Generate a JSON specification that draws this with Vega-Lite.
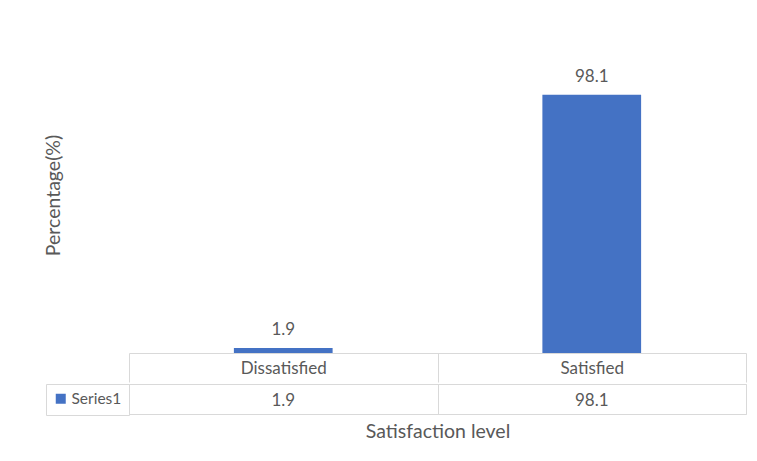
{
  "$schema": "https://vega.github.io/schema/vega-lite/v6.json",
  "padding": {"left": 43, "top": 37, "right": 5, "bottom": 5},
  "background": "white",
  "config": {
    "font": "Lato",
    "text": {"font": "Lato"},
    "axis": {"labelFont": "Lato", "titleFont": "Lato", "labelColor": "#595959", "titleColor": "#595959", "titleFontWeight": "normal"},
    "legend": {"labelFont": "Lato"}
  },
  "data": {"values": [
    {"level": "Dissatisfied", "pct": 1.9, "series": "Series1"},
    {"level": "Satisfied", "pct": 98.1, "series": "Series1"}
  ]},
  "spacing": 0,
  "resolve": {"scale": {"color": "independent"}, "legend": {"color": "independent"}},
  "vconcat": [
    {
      "width": 617,
      "height": 316,
      "view": {"stroke": null},
      "encoding": {
        "x": {"field": "level", "type": "nominal", "sort": null,
          "scale": {"paddingInner": 0, "paddingOuter": 0},
          "axis": {"title": null, "labelAngle": 0, "labelFontSize": 17, "labelPadding": -22, "labelBaseline": "top",
            "tickBand": "extent", "tickSize": 29, "tickColor": "#d9d9d9", "domainColor": "#d9d9d9", "ticks": true}},
        "y": {"field": "pct", "type": "quantitative", "scale": {"domain": [0, 120]},
          "axis": {"title": "Percentage(%)", "titleFontSize": 19.5, "labels": false, "ticks": false, "domain": false, "grid": false, "titlePadding": 66}}
      },
      "layer": [
        {"mark": {"type": "bar", "color": "#4472c4", "width": {"band": 0.32}}},
        {"mark": {"type": "text", "baseline": "bottom", "dy": -9, "fontSize": 17, "color": "#595959"},
          "encoding": {"text": {"field": "pct", "type": "quantitative", "format": ".1f"}}}
      ]
    },
    {
      "width": 617,
      "height": 30,
      "view": {"stroke": "#d9d9d9"},
      "encoding": {
        "x": {"field": "level", "type": "nominal", "sort": null,
          "scale": {"paddingInner": 0, "paddingOuter": 0},
          "axis": {"title": "Satisfaction level", "titleFontSize": 19.5, "titlePadding": 8, "labels": false, "ticks": false, "domain": false,
            "grid": true, "gridColor": "#d9d9d9", "tickBand": "extent"}}
      },
      "layer": [
        {"mark": {"type": "text", "fontSize": 17, "color": "#595959", "dy": 2},
          "encoding": {"text": {"field": "pct", "type": "quantitative", "format": ".1f"}}},
        {"mark": {"type": "point", "shape": "square", "filled": true, "opacity": 0},
          "encoding": {"color": {"field": "series", "type": "nominal", "scale": {"range": ["#4472c4"]},
            "legend": {"title": null, "orient": "left", "offset": 0, "padding": 7, "strokeColor": "#d9d9d9",
              "symbolType": "square", "symbolSize": 100, "symbolOpacity": 1, "symbolStrokeWidth": 0, "symbolFillColor": "#4472c4",
              "labelFontSize": 15.5, "labelColor": "#595959", "labelOffset": 3,
              "encode": {"symbols": {"update": {"opacity": {"value": 1}, "fill": {"value": "#4472c4"}, "fillOpacity": {"value": 1}}}}}}}}
      ]
    }
  ]
}
